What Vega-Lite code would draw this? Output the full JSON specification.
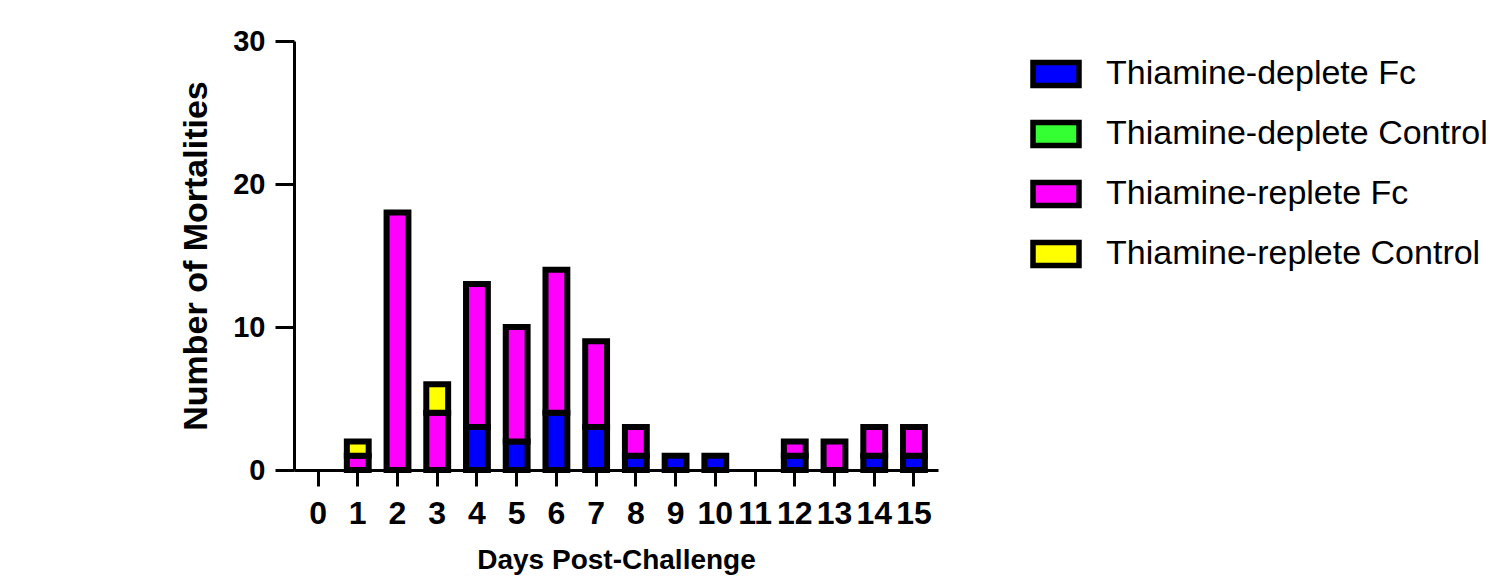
{
  "$schema": "https://vega.github.io/schema/vega-lite/v6.json",
  "width": 644,
  "height": 429,
  "autosize": "none",
  "padding": {"left": 294, "top": 41, "right": 556, "bottom": 111},
  "background": "white",
  "config": {"view": {"stroke": null}, "font": "Liberation Sans"},
  "data": {
    "values": [
      {"day": 1, "group": "Thiamine-replete Fc", "count": 1},
      {"day": 1, "group": "Thiamine-replete Control", "count": 1},
      {"day": 2, "group": "Thiamine-replete Fc", "count": 18},
      {"day": 3, "group": "Thiamine-replete Fc", "count": 4},
      {"day": 3, "group": "Thiamine-replete Control", "count": 2},
      {"day": 4, "group": "Thiamine-deplete Fc", "count": 3},
      {"day": 4, "group": "Thiamine-replete Fc", "count": 10},
      {"day": 5, "group": "Thiamine-deplete Fc", "count": 2},
      {"day": 5, "group": "Thiamine-replete Fc", "count": 8},
      {"day": 6, "group": "Thiamine-deplete Fc", "count": 4},
      {"day": 6, "group": "Thiamine-replete Fc", "count": 10},
      {"day": 7, "group": "Thiamine-deplete Fc", "count": 3},
      {"day": 7, "group": "Thiamine-replete Fc", "count": 6},
      {"day": 8, "group": "Thiamine-deplete Fc", "count": 1},
      {"day": 8, "group": "Thiamine-replete Fc", "count": 2},
      {"day": 9, "group": "Thiamine-deplete Fc", "count": 1},
      {"day": 10, "group": "Thiamine-deplete Fc", "count": 1},
      {"day": 12, "group": "Thiamine-deplete Fc", "count": 1},
      {"day": 12, "group": "Thiamine-replete Fc", "count": 1},
      {"day": 13, "group": "Thiamine-replete Fc", "count": 2},
      {"day": 14, "group": "Thiamine-deplete Fc", "count": 1},
      {"day": 14, "group": "Thiamine-replete Fc", "count": 2},
      {"day": 15, "group": "Thiamine-deplete Fc", "count": 1},
      {"day": 15, "group": "Thiamine-replete Fc", "count": 2}
    ]
  },
  "transform": [
    {"calculate": "indexof(['Thiamine-deplete Fc','Thiamine-deplete Control','Thiamine-replete Fc','Thiamine-replete Control'], datum.group)", "as": "stackRank"}
  ],
  "mark": {"type": "bar", "stroke": "black", "strokeWidth": 6, "strokeJoin": "miter", "opacity": 1},
  "encoding": {
    "x": {
      "field": "day",
      "type": "ordinal",
      "scale": {"domain": [0,1,2,3,4,5,6,7,8,9,10,11,12,13,14,15], "paddingInner": 0.45, "paddingOuter": 0.33},
      "axis": {
        "title": "Days Post-Challenge",
        "labelAngle": 0,
        "labelFontSize": 32,
        "labelFontWeight": "bold",
        "labelColor": "black",
        "labelPadding": 12,
        "labelOverlap": false,
        "domainColor": "black",
        "domainWidth": 3,
        "tickColor": "black",
        "tickWidth": 3,
        "tickSize": 16,
        "titleFontSize": 28,
        "titleFontWeight": "bold",
        "titleColor": "black",
        "titlePadding": 17
      }
    },
    "y": {
      "field": "count",
      "type": "quantitative",
      "stack": "zero",
      "scale": {"domain": [0, 30], "nice": false},
      "axis": {
        "title": "Number of Mortalities",
        "values": [0, 10, 20, 30],
        "grid": false,
        "labelFontSize": 29,
        "labelFontWeight": "bold",
        "labelColor": "black",
        "labelPadding": 10,
        "domainColor": "black",
        "domainWidth": 3,
        "tickColor": "black",
        "tickWidth": 3,
        "tickSize": 19,
        "titleFontSize": 34,
        "titleFontWeight": "bold",
        "titleColor": "black",
        "titlePadding": 19
      }
    },
    "order": {"field": "stackRank", "type": "quantitative", "sort": "ascending"},
    "color": {
      "field": "group",
      "type": "nominal",
      "scale": {
        "domain": ["Thiamine-deplete Fc", "Thiamine-deplete Control", "Thiamine-replete Fc", "Thiamine-replete Control"],
        "range": ["#0000FF", "#33FF33", "#FF00FF", "#FFFF00"]
      },
      "legend": {
        "title": null,
        "orient": "none",
        "legendX": 736,
        "legendY": 7,
        "labelFontSize": 34,
        "labelColor": "black",
        "labelFont": "Liberation Sans",
        "labelLimit": 600,
        "symbolType": "M-1,-0.5H1V0.5H-1Z",
        "symbolSize": 2116,
        "symbolStrokeColor": "black",
        "symbolStrokeWidth": 5.5,
        "symbolOpacity": 1,
        "rowPadding": 11,
        "labelOffset": 24
      }
    }
  }
}
